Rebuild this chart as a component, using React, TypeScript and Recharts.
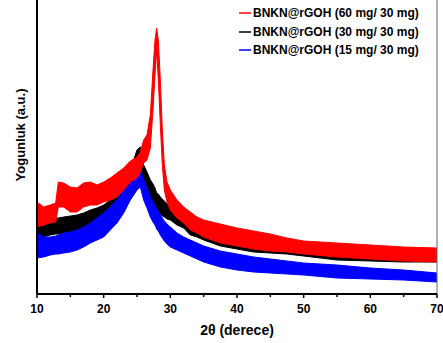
import { AreaChart, Area, XAxis, YAxis, ReferenceLine } from 'recharts'

// 2theta positions (degrees)
const theta = [10, 11, 12, 12.8, 13.2, 14, 15, 16, 17, 18, 19, 20, 21, 22, 23, 24, 25, 25.5, 26, 26.5, 27, 27.4, 27.7, 27.95, 28.2, 28.5, 28.8, 29.1, 29.5, 30, 31, 32, 33, 34, 35, 37.5, 40, 42.5, 45, 47.5, 50, 55, 60, 65, 70]

// noisy band: lower / upper envelope of each pattern (a.u.)
const redLo = [67, 69, 71, 72, 87, 87, 82, 82, 87, 89, 89, 92, 94, 97, 104, 112, 116, 122, 131, 134, 146, 184, 219, 244, 214, 169, 129, 104, 92, 84, 76, 71, 64, 61, 57, 51, 48, 45, 43, 42, 40, 37, 35, 33, 32]
const redHi = [92, 87, 89, 91, 112, 111, 107, 106, 111, 112, 109, 112, 116, 121, 126, 133, 137, 142, 154, 159, 179, 224, 254, 266, 254, 214, 164, 129, 112, 104, 94, 87, 82, 77, 74, 70, 66, 63, 60, 56, 53, 51, 49, 47, 46]
const blackLo = [57, 57, 59, 60, 60, 61, 61, 62, 64, 66, 68, 71, 76, 81, 87, 101, 119, 126, 107, 101, 94, 91, 88, 84, 83, 80, 78, 77, 75, 74, 69, 66, 59, 57, 54, 48, 45, 42, 41, 40, 38, 34, 33, 32, 32]
const blackHi = [74, 73, 76, 76, 76, 77, 78, 79, 81, 84, 86, 89, 94, 101, 107, 124, 144, 147, 129, 122, 114, 110, 106, 101, 100, 97, 95, 93, 90, 87, 82, 79, 75, 71, 67, 62, 58, 54, 51, 49, 48, 46, 44, 43, 42]
const blueLo = [36, 37, 39, 40, 40, 41, 42, 44, 47, 51, 54, 57, 64, 71, 81, 94, 104, 107, 94, 86, 77, 72, 69, 65, 63, 59, 56, 53, 50, 47, 44, 41, 38, 35, 32, 27, 24, 22, 21, 20, 19, 16, 15, 14, 12]
const blueHi = [61, 57, 57, 58, 59, 61, 62, 64, 67, 71, 76, 81, 87, 94, 104, 114, 122, 125, 114, 106, 97, 92, 89, 85, 83, 79, 76, 73, 70, 67, 61, 57, 54, 51, 48, 43, 40, 37, 35, 33, 31, 29, 26, 24, 21]

const xTicks = [10, 15, 20, 25, 30, 35, 40, 45, 50, 55, 60, 65, 70]

const series = [
  { key: 'red', name: 'BNKN@rGOH (60 mg/ 30 mg)', color: '#ff0000' },
  { key: 'black', name: 'BNKN@rGOH (30 mg/ 30 mg)', color: '#000000' },
  { key: 'blue', name: 'BNKN@rGOH (15 mg/ 30 mg)', color: '#0000ff' },
]

const data = theta.map((t, i) => ({
  t,
  red: [redLo[i], redHi[i]],
  black: [blackLo[i], blackHi[i]],
  blue: [blueLo[i], blueHi[i]],
}))

const FONT = '"Liberation Sans", Arial, sans-serif'

function XTick({ x, y, payload }: any) {
  const major = payload.value % 10 === 0
  return (
    <g>
      <line x1={x} y1={y} x2={x} y2={y + (major ? 4 : 3)} stroke="#000" strokeWidth={1.5} />
      {major && (
        <text x={x} y={y + 19} textAnchor="middle" fontSize={12} fontWeight="bold" fontFamily={FONT} fill="#000">
          {payload.value}
        </text>
      )}
    </g>
  )
}

function YTitle({ viewBox }: any) {
  const x = viewBox.x + 25
  const y = viewBox.y + viewBox.height / 2 - 12
  return (
    <text
      x={x}
      y={y}
      transform={`rotate(-90, ${x}, ${y})`}
      textAnchor="middle"
      fontSize={13}
      fontWeight="bold"
      fontFamily={FONT}
      fill="#000"
    >
      Yogunluk (a.u.)
    </text>
  )
}

function LegendBox() {
  return (
    <div
      style={{
        position: 'absolute',
        top: 4,
        left: 239,
        fontFamily: FONT,
        fontSize: 12,
        fontWeight: 'bold',
        color: '#000',
      }}
    >
      {series.map((s) => (
        <div key={s.key} style={{ display: 'flex', alignItems: 'center', height: 18.5, whiteSpace: 'nowrap' }}>
          <svg width={14} height={4}>
            <line x1={0} y1={2} x2={12} y2={2} stroke={s.color} strokeWidth={1.5} />
          </svg>
          <span>{s.name}</span>
        </div>
      ))}
    </div>
  )
}

export default function App() {
  return (
    <div style={{ position: 'absolute', left: 0, top: 0, width: 443, height: 343, background: '#fff' }}>
      <AreaChart width={443} height={343} data={data} margin={{ top: 0, right: 6, bottom: 0, left: 0 }}>
        <XAxis
          dataKey="t"
          type="number"
          domain={[10, 70]}
          ticks={xTicks}
          interval={0}
          tick={<XTick />}
          tickLine={false}
          tickSize={0}
          tickMargin={0}
          height={49}
          axisLine={{ stroke: '#000', strokeWidth: 2 }}
          label={{ value: '2θ (derece)', position: 'insideBottom', offset: 8, fontSize: 14, fontWeight: 'bold', fontFamily: FONT, fill: '#000' }}
        />
        <YAxis
          type="number"
          domain={[0, 294]}
          width={37}
          tick={false}
          tickLine={false}
          axisLine={{ stroke: '#000', strokeWidth: 2 }}
          label={{ content: <YTitle /> }}
        />
        <ReferenceLine x={70} stroke="#666" strokeWidth={1} />
        <Area dataKey="black" type="linear" stroke="#000000" strokeWidth={1} fill="#000000" fillOpacity={1} isAnimationActive={false} dot={false} activeDot={false} />
        <Area dataKey="blue" type="linear" stroke="#0000ff" strokeWidth={1} fill="#0000ff" fillOpacity={1} isAnimationActive={false} dot={false} activeDot={false} />
        <Area dataKey="red" type="linear" stroke="#ff0000" strokeWidth={1} fill="#ff0000" fillOpacity={1} isAnimationActive={false} dot={false} activeDot={false} />
      </AreaChart>
      <LegendBox />
    </div>
  )
}
